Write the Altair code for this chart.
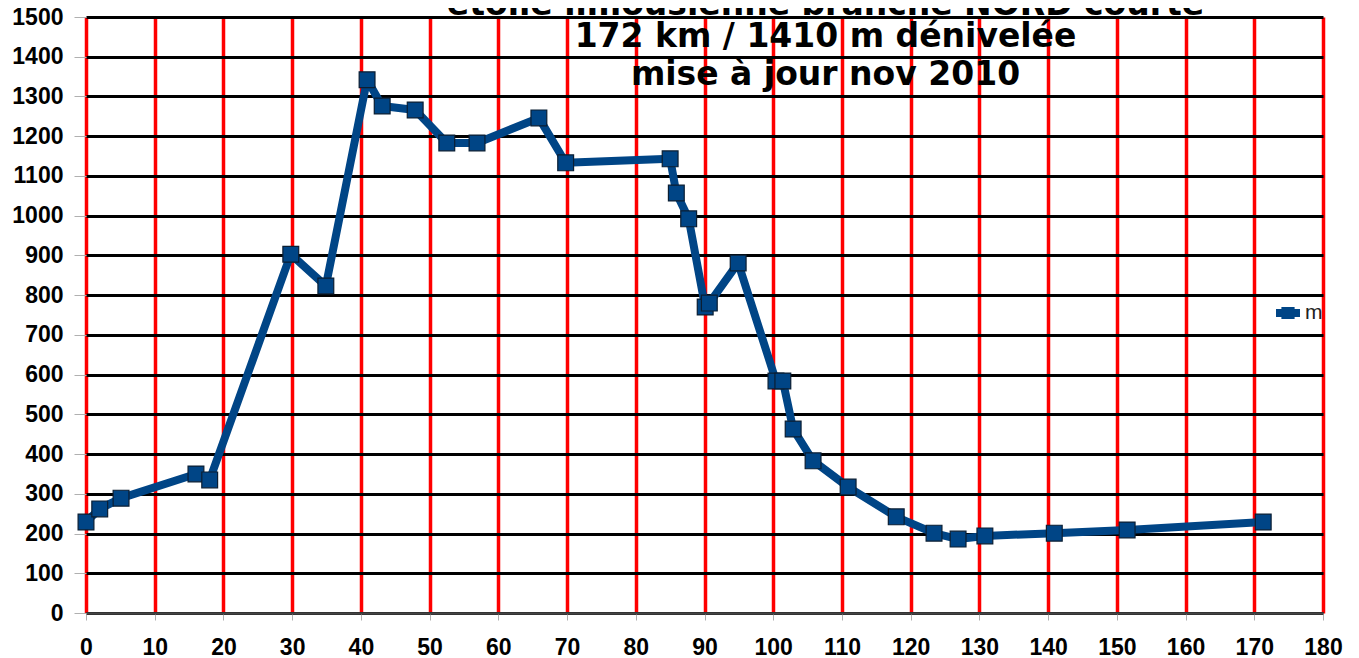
import altair as alt
import pandas as pd

km = [0, 2.0, 5.1, 16.0, 18.0, 29.8, 34.9, 40.9, 43.1, 47.9, 52.5, 56.9, 65.9, 69.8,
      85.0, 85.9, 87.7, 90.1, 90.7, 94.9, 100.4, 101.4, 102.9, 105.8, 110.9, 117.9,
      123.4, 126.9, 130.8, 140.9, 151.5, 171.3]
alt_m = [229, 262, 289, 350, 335, 903, 823, 1342, 1276, 1266, 1183, 1183, 1246, 1133,
         1143, 1057, 992, 770, 780, 881, 584, 584, 463, 383, 317, 242,
         201, 186, 194, 201, 209, 229]
series = ["m"] * len(km)
x_ticks = list(range(0, 181, 10))
y_ticks = list(range(0, 1501, 100))
title_line1 = "étoile limousienne branche NORD courte"
title_lines_rest = ["172 km / 1410 m dénivelée", "mise à jour nov 2010"]

df = pd.DataFrame({"km": km, "alt": alt_m, "serie": series, "order": list(range(len(km)))})

BLUE = "#004586"
FONT = "Liberation Sans"
TFONT = "DejaVu Sans"

x_enc = alt.X("km:Q", scale=alt.Scale(domain=[0, 180], nice=False, zero=False),
              axis=alt.Axis(values=x_ticks, title=None, grid=True, gridColor="#ff0000",
                            gridWidth=3.5, gridOpacity=1, domain=True, domainColor="#444444",
                            domainWidth=2.5, tickColor="#b0b0b0", tickSize=7, tickWidth=1,
                            labelFont=FONT, labelFontWeight="bold", labelFontSize=23,
                            labelColor="#000000", labelPadding=16, labelFlush=False,
                            labelOverlap=False, format="d", zindex=0))
y_enc = alt.Y("alt:Q", scale=alt.Scale(domain=[0, 1500], nice=False),
              axis=alt.Axis(values=y_ticks, title=None, grid=True, gridColor="#000000",
                            gridWidth=3, gridOpacity=1, domain=False,
                            tickColor="#b0b0b0", tickSize=12, tickWidth=1,
                            labelFont=FONT, labelFontWeight="bold", labelFontSize=23,
                            labelColor="#000000", labelPadding=11, labelFlush=False,
                            labelOverlap=False, format="d", zindex=0))
color_enc = alt.Color("serie:N", scale=alt.Scale(domain=["m"], range=[BLUE]),
                      legend=alt.Legend(title=None, orient="none", legendX=1190, legendY=284,
                                        symbolType="M-1,-0.33H1V0.33H-1Z M-0.55,-0.5H0.55V0.5H-0.55Z",
                                        symbolSize=576, symbolFillColor=BLUE, symbolStrokeWidth=0,
                                        labelFont=FONT, labelFontSize=21, labelColor="#222222",
                                        labelOffset=5))

base = alt.Chart(df).encode(x=x_enc, y=y_enc, color=color_enc)
line = base.mark_line(strokeWidth=8, strokeJoin="round").encode(order="order:Q")
pts = base.mark_point(shape="square", size=250, filled=True, opacity=1,
                      stroke="#0a1e33", strokeWidth=1.2)

chart = alt.layer(line, pts).properties(
    width=1237, height=596,
    title=alt.TitleParams(text=title_line1, subtitle=title_lines_rest,
                          font=TFONT, fontSize=33, fontWeight="bold", color="#000000",
                          subtitleFont=TFONT, subtitleFontSize=33, subtitleFontWeight="bold",
                          subtitleColor="#000000", subtitleLineHeight=38, subtitlePadding=-1,
                          anchor="middle", orient="top", baseline="alphabetic",
                          offset=-112, dx=121),
    autosize=alt.AutoSizeParams(type="none"),
    padding={"left": 78, "top": 9, "right": 20, "bottom": 44},
).configure_view(stroke=None).configure(background="#ffffff")

chart.save("out.html", embed_options={"renderer": "svg", "actions": False})
